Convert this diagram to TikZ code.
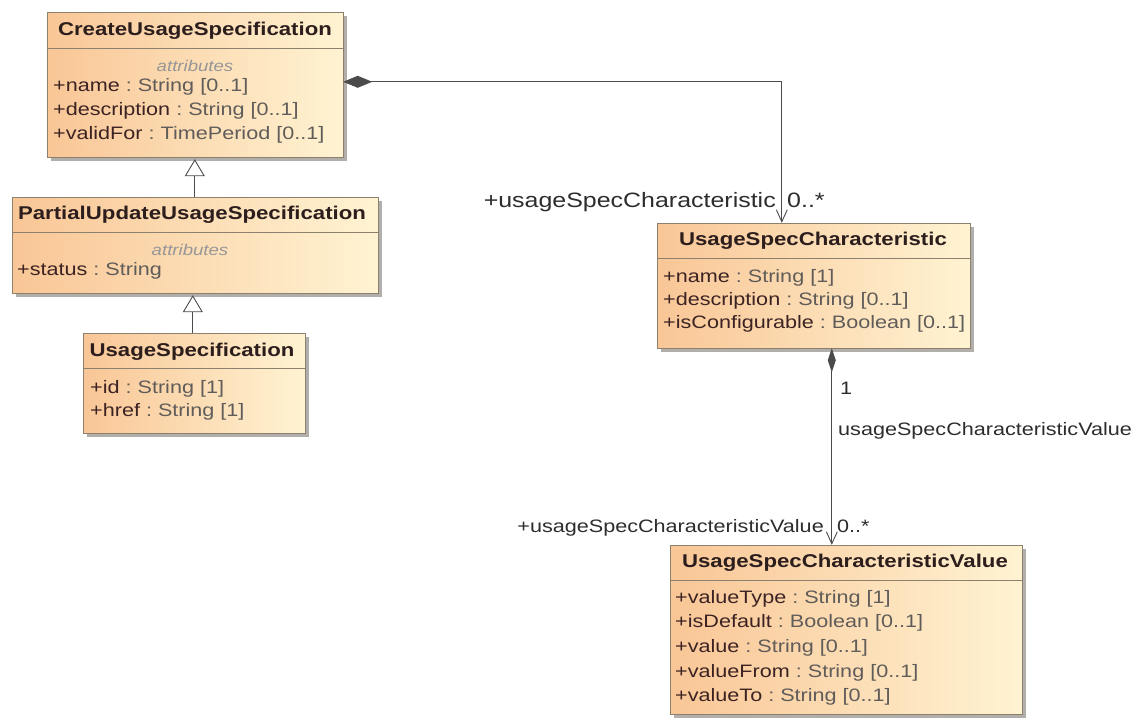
\documentclass[tikz,border=0pt]{standalone}
\usepackage{fontspec}
\setmainfont{Liberation Sans}[FakeStretch=1.2]
\usetikzlibrary{arrows.meta,fit,calc}
\definecolor{boxL}{RGB}{249,198,150}
\definecolor{boxR}{RGB}{255,243,210}
\definecolor{boxBorder}{RGB}{140,128,110}
\definecolor{shadowC}{RGB}{178,174,170}
\definecolor{lineC}{RGB}{75,75,75}
\definecolor{titleC}{RGB}{45,30,30}
\definecolor{attrC}{RGB}{60,35,35}
\definecolor{typeC}{RGB}{95,92,90}
\definecolor{stereoC}{RGB}{150,150,150}
\definecolor{labelC}{RGB}{45,45,45}
\newcommand\umlbox[6]{%
  \fill[shadowC] (#2+4,#3+4) rectangle (#4+4,#5+4);
  \path[draw=boxBorder,line width=1pt,left color=boxL,right color=boxR] (#2,#3) rectangle (#4,#5);
  \draw[boxBorder,line width=0.8pt] (#2,#6) -- (#4,#6);
  \node[fit={(#2,#3)(#4,#5)},inner sep=0pt] (#1) {};
}
\newcommand\attrline[5]{%
  \node[attr,anchor=west] (#1) at (#2,#3) {\textcolor{attrC}{#4}\textcolor{typeC}{\ :\ #5}};
}
\tikzset{
  txt/.style={inner sep=0pt,text height=0.72em,text depth=0pt,yshift=-1.5pt},
  title/.style={txt,font=\fontsize{18.5}{18.5}\selectfont\bfseries,text=titleC},
  attr/.style={txt,font=\fontsize{18}{18}\selectfont},
  stereo/.style={txt,font=\fontsize{15.5}{15.5}\selectfont\itshape,text=stereoC},
  lbl/.style={txt,font=\fontsize{18}{18}\selectfont,text=labelC},
  biglbl/.style={txt,font=\fontsize{20.8}{20.8}\selectfont,text=labelC},
  gen/.style={lineC,line width=0.9pt,-{Triangle[open,length=17pt,width=20pt,fill=white]}},
  comp/.style={lineC,line width=0.9pt,{Diamond[length=29pt,width=12pt,fill=lineC]}-{Straight Barb[length=12pt,width=11pt]}},
  compsmall/.style={lineC,line width=0.9pt,{Diamond[length=24pt,width=8pt,fill=lineC]}-{Straight Barb[length=12pt,width=11pt]}},
}
\begin{document}
\begin{tikzpicture}[x=1pt,y=-1pt]
\useasboundingbox[fill=white] (0,0) rectangle (1145,720);
% CreateUsageSpecification
\umlbox{create}{47}{12}{343}{157}{48}
\node[title] (createT) at (195,30) {CreateUsageSpecification};
\node[stereo] (createS) at (195,66) {attributes};
\attrline{createA1}{53}{86}{+name}{String [0..1]}
\attrline{createA2}{53}{110}{+description}{String [0..1]}
\attrline{createA3}{53}{134}{+validFor}{TimePeriod [0..1]}
% PartialUpdateUsageSpecification
\umlbox{partial}{12}{197}{378}{293}{232}
\node[title] (partialT) at (192,214) {PartialUpdateUsageSpecification};
\node[stereo] (partialS) at (190,250) {attributes};
\attrline{partialA1}{17}{270}{+status}{String}
% UsageSpecification
\umlbox{usspec}{83}{333}{305}{433}{368}
\node[title] (usspecT) at (192,351) {UsageSpecification};
\attrline{usspecA1}{90}{388}{+id}{String [1]}
\attrline{usspecA2}{90}{411}{+href}{String [1]}
% UsageSpecCharacteristic
\umlbox{usc}{657}{223}{970}{348}{258}
\node[title] (uscT) at (813,240) {UsageSpecCharacteristic};
\attrline{uscA1}{663}{277}{+name}{String [1]}
\attrline{uscA2}{663}{300}{+description}{String [0..1]}
\attrline{uscA3}{663}{323}{+isConfigurable}{Boolean [0..1]}
% UsageSpecCharacteristicValue
\umlbox{uscv}{670}{545}{1022}{714}{580}
\node[title] (uscvT) at (845,562) {UsageSpecCharacteristicValue};
\attrline{uscvA1}{675}{598}{+valueType}{String [1]}
\attrline{uscvA2}{675}{622}{+isDefault}{Boolean [0..1]}
\attrline{uscvA3}{675}{647}{+value}{String [0..1]}
\attrline{uscvA4}{675}{672}{+valueFrom}{String [0..1]}
\attrline{uscvA5}{675}{696}{+valueTo}{String [0..1]}
% generalizations
\draw[gen] ($(partial.north west)+(183,0)$) -- ($(create.south west)+(148,2)$);
\draw[gen] ($(usspec.north west)+(110,0)$) -- ($(partial.south west)+(181,2)$);
% compositions
\draw[comp] ($(create.north east)+(0,70)$) -| ($(usc.north west)+(125,0)$);
\draw[compsmall] ($(usc.south west)+(175,0)$) -- ($(uscv.north west)+(162,0)$);
% labels
\node[biglbl,anchor=east] (l1) at (776,202) {+usageSpecCharacteristic};
\node[biglbl,anchor=west] (l2) at (787,202) {0..*};
\node[lbl,anchor=west] (l3) at (840,389) {1};
\node[lbl,anchor=west] (l4) at (838,430) {usageSpecCharacteristicValue};
\node[lbl,anchor=east] (l5) at (824,527) {+usageSpecCharacteristicValue};
\node[lbl,anchor=west] (l6) at (837,527) {0..*};
\end{tikzpicture}
\end{document}
